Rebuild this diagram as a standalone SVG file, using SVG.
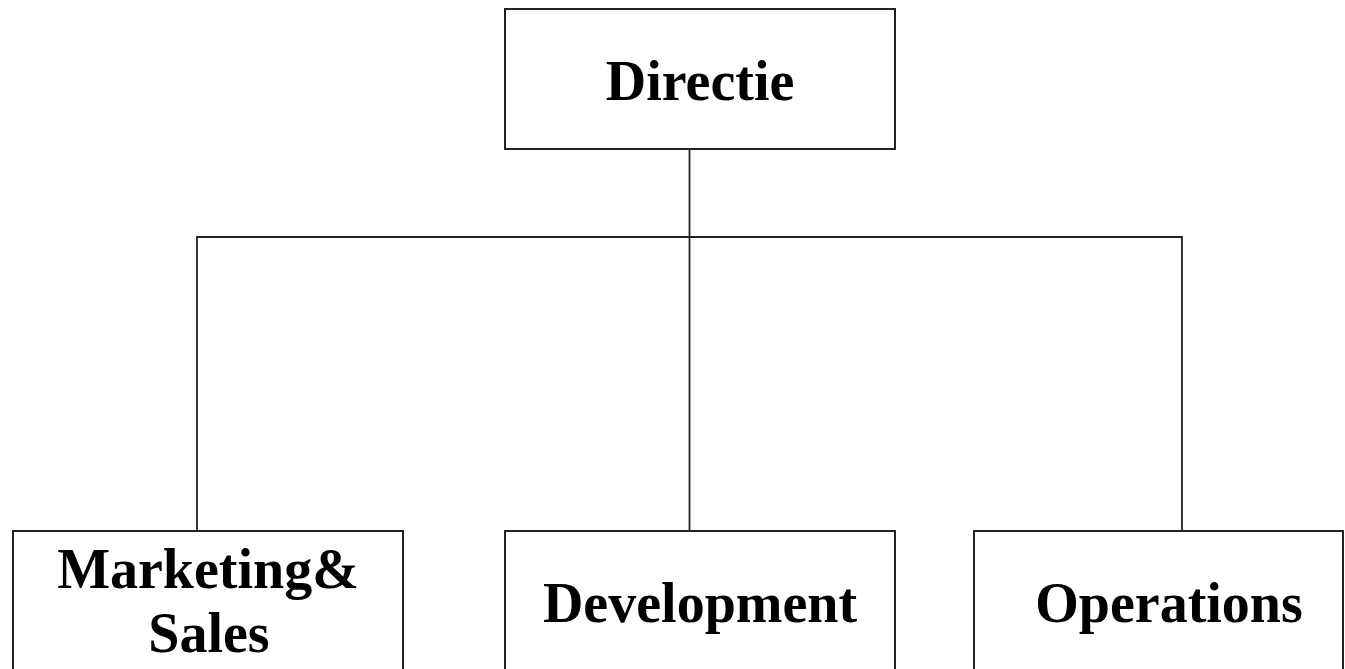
<svg xmlns="http://www.w3.org/2000/svg" width="1345" height="669" viewBox="0 0 1345 669">
<style>
.box{fill:#fff;stroke:#222;stroke-width:2}
.lbl{font-family:"Liberation Serif","Times New Roman",serif;font-weight:bold;font-size:56px;fill:#000;text-anchor:middle}
.conn{fill:none;stroke:#222;stroke-width:1.8}
</style>
<rect width="1345" height="669" fill="#fff"/>
<g id="connectors">
<path class="conn" d="M689.5 149V237M197 530V237H1182V530M689.5 237V530"/>
</g>
<g id="directie">
<rect class="box" x="505" y="9" width="390" height="140"/>
<text class="lbl" x="700" y="100">Directie</text>
</g>
<g id="marketing">
<rect class="box" x="13" y="531" width="390" height="150"/>
<text class="lbl" x="208" y="588">Marketing&amp;</text>
<text class="lbl" x="209" y="652">Sales</text>
</g>
<g id="development">
<rect class="box" x="505" y="531" width="390" height="150"/>
<text class="lbl" x="700" y="622">Development</text>
</g>
<g id="operations">
<rect class="box" x="974" y="531" width="369" height="150"/>
<text class="lbl" x="1169" y="622">Operations</text>
</g>
</svg>
